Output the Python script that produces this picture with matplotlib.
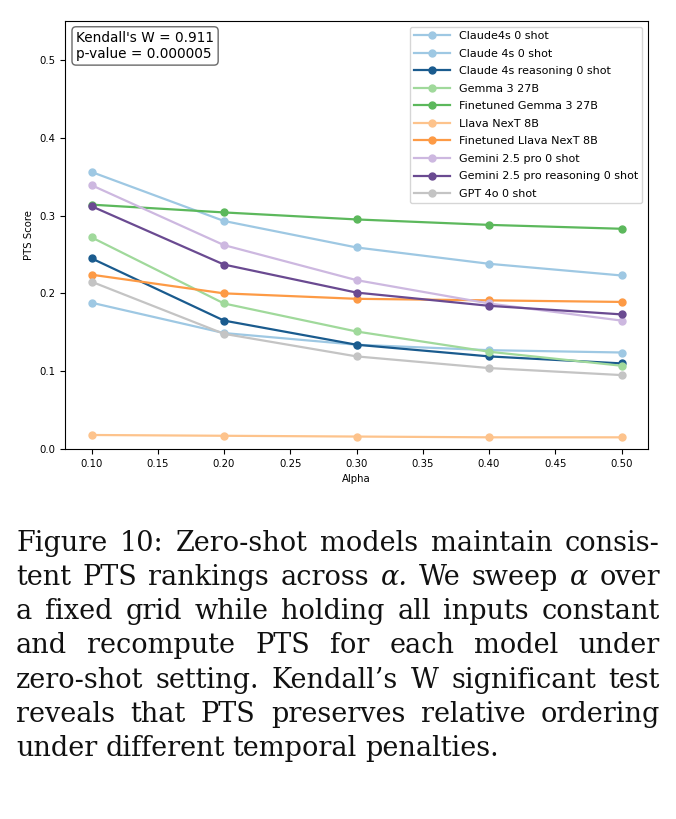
import matplotlib
matplotlib.use("Agg")
import matplotlib.pyplot as plt

# alpha sweep (x axis)
alpha = [0.10, 0.20, 0.30, 0.40, 0.50]

# PTS score per model
claude4s_0shot = [0.356, 0.293, 0.259, 0.238, 0.223]
claude_4s_0shot = [0.188, 0.149, 0.134, 0.127, 0.124]
claude_4s_reasoning = [0.245, 0.165, 0.134, 0.119, 0.110]
gemma_3_27b = [0.272, 0.187, 0.151, 0.125, 0.107]
ft_gemma_3_27b = [0.314, 0.304, 0.295, 0.288, 0.283]
llava_next_8b = [0.018, 0.017, 0.016, 0.015, 0.015]
ft_llava_next_8b = [0.224, 0.200, 0.193, 0.191, 0.189]
gemini_25_pro = [0.339, 0.262, 0.217, 0.187, 0.165]
gemini_25_pro_reasoning = [0.312, 0.237, 0.201, 0.184, 0.173]
gpt_4o = [0.215, 0.148, 0.119, 0.104, 0.095]

labels = [
    "Claude4s 0 shot",
    "Claude 4s 0 shot",
    "Claude 4s reasoning 0 shot",
    "Gemma 3 27B",
    "Finetuned Gemma 3 27B",
    "Llava NexT 8B",
    "Finetuned Llava NexT 8B",
    "Gemini 2.5 pro 0 shot",
    "Gemini 2.5 pro reasoning 0 shot",
    "GPT 4o 0 shot",
]
series = [
    claude4s_0shot, claude_4s_0shot, claude_4s_reasoning,
    gemma_3_27b, ft_gemma_3_27b, llava_next_8b, ft_llava_next_8b,
    gemini_25_pro, gemini_25_pro_reasoning, gpt_4o,
]
colors = [
    "#9ec8e3", "#9ec8e3", "#1a5b8e",
    "#a0d99b", "#5cb85c", "#fdc38c", "#fd9a45",
    "#cdb8e0", "#6a4a91", "#c4c4c4",
]

caption = [
    "Figure 10: Zero-shot models maintain consis-",
    "tent PTS rankings across α. We sweep α over",
    "a fixed grid while holding all inputs constant",
    "and recompute PTS for each model under",
    "zero-shot setting. Kendall’s W significant test",
    "reveals that PTS preserves relative ordering",
    "under different temporal penalties.",
]

W, H = 676, 819
fig = plt.figure(figsize=(W / 100, H / 100), dpi=100)
ax = fig.add_axes([65 / W, 1 - 449 / H, (648 - 65) / W, (449 - 21) / H])

for ys, lab, c in zip(series, labels, colors):
    ax.plot(alpha, ys, marker="o", color=c, lw=1.6, ms=5, label=lab)

ax.set_ylim(0, 0.55)
ax.set_xlabel("Alpha", fontsize=7.3)
ax.set_ylabel("PTS Score", fontsize=7.3)
ax.tick_params(labelsize=7.3)
ax.legend(loc="upper right", fontsize=8, handlelength=3.2, labelspacing=0.68)

ax.text(0.019, 0.977, "Kendall's W = 0.911\np-value = 0.000005",
        transform=ax.transAxes, va="top", ha="left", fontsize=9.8,
        bbox=dict(boxstyle="round,pad=0.3", facecolor="white",
                  edgecolor="0.35", alpha=0.9))

# caption, justified word by word
fig.canvas.draw()
renderer = fig.canvas.get_renderer()
left, right = 16, 660
first_base, step = 550.7, 34.2
for i, line in enumerate(caption):
    y = 1 - (first_base + step * i) / H
    words = line.split()
    texts = [fig.text(0, y, w, fontsize=19.5, family="DejaVu Serif",
                      style="italic" if "α" in w else "normal",
                      va="baseline", ha="left", color="#111111")
             for w in words]
    widths = [t.get_window_extent(renderer).width for t in texts]
    if i < len(caption) - 1:
        gap = (right - left - sum(widths)) / (len(words) - 1)
    else:
        gap = 8
    x = left
    for t, w in zip(texts, widths):
        t.set_x(x / W)
        x += w + gap

fig.savefig("out.png", dpi=100)
